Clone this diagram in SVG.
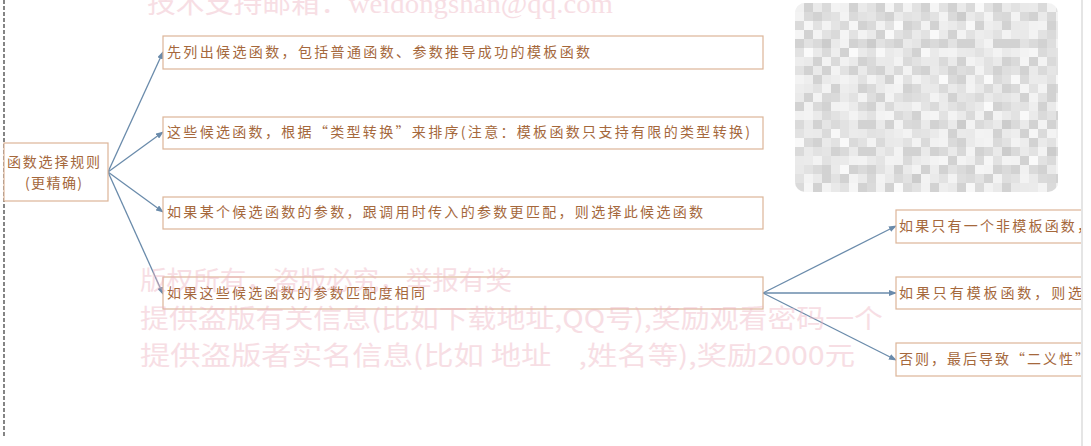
<svg xmlns="http://www.w3.org/2000/svg" width="1091" height="446" viewBox="0 0 1091 446">
<style>
.box{fill:#ffffff;stroke:#dcb598;stroke-width:1.2}
.t{font-family:"Noto Sans CJK SC","Noto Sans",sans-serif;font-size:14px;fill:#a5683c}
.wm{font-family:"Noto Sans CJK SC","Noto Sans",sans-serif;font-size:26px;fill:#eeb3c0;opacity:0.42}
.wmt{font-family:"Liberation Serif","Noto Sans CJK SC",serif;font-size:27px;fill:#eeb3c0;opacity:0.42}
.c{stroke:#6a8bab;stroke-width:1.3;fill:none}
.g0{fill:#d2d2d2}.g1{fill:#dadada}.g3{fill:#eaeaea}.g4{fill:#f3f3f3}
</style>
<defs>
<marker id="ah" markerUnits="userSpaceOnUse" markerWidth="8" markerHeight="6" refX="7" refY="3" orient="auto">
<path d="M0,0 L8,3 L0,6 z" fill="#6a8bab"/>
</marker>
<clipPath id="clipR"><rect x="0" y="0" width="1081" height="446"/></clipPath>
<pattern id="mA" width="72" height="63" patternUnits="userSpaceOnUse" x="795" y="3">
<rect width="72" height="63" fill="#e2e2e2"/>
<rect class="g0" x="9" y="0" width="9" height="9"/><rect class="g3" x="18" y="0" width="9" height="9"/><rect class="g1" x="27" y="0" width="9" height="9"/><rect class="g4" x="36" y="0" width="9" height="9"/><rect class="g0" x="54" y="0" width="9" height="9"/><rect class="g3" x="63" y="0" width="9" height="9"/>
<rect class="g4" x="0" y="9" width="9" height="9"/><rect class="g1" x="9" y="9" width="9" height="9"/><rect class="g0" x="18" y="9" width="9" height="9"/><rect class="g3" x="27" y="9" width="9" height="9"/><rect class="g4" x="45" y="9" width="9" height="9"/><rect class="g1" x="54" y="9" width="9" height="9"/>
<rect class="g1" x="0" y="18" width="9" height="9"/><rect class="g3" x="9" y="18" width="9" height="9"/><rect class="g4" x="27" y="18" width="9" height="9"/><rect class="g0" x="36" y="18" width="9" height="9"/><rect class="g1" x="45" y="18" width="9" height="9"/><rect class="g3" x="54" y="18" width="9" height="9"/><rect class="g0" x="63" y="18" width="9" height="9"/>
<rect class="g3" x="0" y="27" width="9" height="9"/><rect class="g0" x="9" y="27" width="9" height="9"/><rect class="g4" x="18" y="27" width="9" height="9"/><rect class="g1" x="36" y="27" width="9" height="9"/><rect class="g3" x="45" y="27" width="9" height="9"/><rect class="g4" x="63" y="27" width="9" height="9"/>
<rect class="g0" x="0" y="36" width="9" height="9"/><rect class="g1" x="18" y="36" width="9" height="9"/><rect class="g0" x="27" y="36" width="9" height="9"/><rect class="g3" x="36" y="36" width="9" height="9"/><rect class="g4" x="45" y="36" width="9" height="9"/><rect class="g0" x="54" y="36" width="9" height="9"/><rect class="g1" x="63" y="36" width="9" height="9"/>
<rect class="g4" x="9" y="45" width="9" height="9"/><rect class="g3" x="18" y="45" width="9" height="9"/><rect class="g1" x="27" y="45" width="9" height="9"/><rect class="g0" x="45" y="45" width="9" height="9"/><rect class="g4" x="54" y="45" width="9" height="9"/><rect class="g3" x="63" y="45" width="9" height="9"/>
<rect class="g1" x="0" y="54" width="9" height="9"/><rect class="g3" x="9" y="54" width="9" height="9"/><rect class="g0" x="18" y="54" width="9" height="9"/><rect class="g4" x="27" y="54" width="9" height="9"/><rect class="g1" x="36" y="54" width="9" height="9"/><rect class="g3" x="54" y="54" width="9" height="9"/><rect class="g0" x="63" y="54" width="9" height="9"/>
</pattern>
<pattern id="mB" width="45" height="27" patternUnits="userSpaceOnUse" x="795" y="3">
<rect x="0" y="0" width="9" height="9" fill="#ffffff" opacity="0.5"/><rect x="27" y="9" width="9" height="9" fill="#bdbdbd" opacity="0.25"/><rect x="9" y="18" width="9" height="9" fill="#ffffff" opacity="0.55"/><rect x="36" y="18" width="9" height="9" fill="#ffffff" opacity="0.4"/>
</pattern>
</defs>
<rect width="1091" height="446" fill="#ffffff"/>

<g id="mosaic">
<rect x="795" y="3" width="263" height="189" rx="10" fill="url(#mA)"/>
<rect x="795" y="3" width="263" height="189" rx="10" fill="url(#mB)"/>
</g>

<g id="frame">
<line x1="4" y1="0" x2="4" y2="437" stroke="#444" stroke-width="1.3" stroke-dasharray="4,2"/>
<line x1="1082" y1="0" x2="1082" y2="446" stroke="#dcdcdc" stroke-width="1.5"/>
</g>

<g id="connectors">
<line class="c" x1="108" y1="172" x2="163" y2="52" marker-end="url(#ah)"/>
<line class="c" x1="108" y1="172" x2="163" y2="132" marker-end="url(#ah)"/>
<line class="c" x1="108" y1="172" x2="163" y2="212" marker-end="url(#ah)"/>
<line class="c" x1="108" y1="172" x2="163" y2="294" marker-end="url(#ah)"/>
<line class="c" x1="763" y1="293" x2="896" y2="226" marker-end="url(#ah)"/>
<line class="c" x1="763" y1="293" x2="896" y2="293" marker-end="url(#ah)"/>
<line class="c" x1="763" y1="293" x2="896" y2="360" marker-end="url(#ah)"/>
</g>

<g id="root">
<rect class="box" x="4" y="143" width="104" height="58"/>
<text class="t" x="7" y="167" textLength="93" lengthAdjust="spacing">函数选择规则</text>
<text class="t" x="25" y="188" textLength="57" lengthAdjust="spacing">(更精确)</text>
</g>

<g id="n1">
<rect class="box" x="163" y="36" width="600" height="33"/>
<text class="t" x="167" y="57" textLength="423" lengthAdjust="spacing">先列出候选函数，包括普通函数、参数推导成功的模板函数</text>
</g>
<g id="n2">
<rect class="box" x="163" y="117" width="600" height="32"/>
<text class="t" x="167" y="137" textLength="583" lengthAdjust="spacing">这些候选函数，根据“类型转换”来排序(注意：模板函数只支持有限的类型转换)</text>
</g>
<g id="n3">
<rect class="box" x="163" y="197" width="600" height="32"/>
<text class="t" x="167" y="217" textLength="536" lengthAdjust="spacing">如果某个候选函数的参数，跟调用时传入的参数更匹配，则选择此候选函数</text>
</g>
<g id="n4">
<rect class="box" x="163" y="277" width="600" height="32"/>
<text class="t" x="167" y="298" textLength="258" lengthAdjust="spacing">如果这些候选函数的参数匹配度相同</text>
</g>

<g clip-path="url(#clipR)">
<g id="n5">
<rect class="box" x="896" y="210" width="200" height="33"/>
<text class="t" x="899" y="231" textLength="192" lengthAdjust="spacing">如果只有一个非模板函数，</text>
</g>
<g id="n6">
<rect class="box" x="896" y="277" width="200" height="32"/>
<text class="t" x="899" y="298" textLength="200" lengthAdjust="spacing">如果只有模板函数，则选择</text>
</g>
<g id="n7">
<rect class="box" x="896" y="343" width="200" height="33"/>
<text class="t" x="899" y="364" textLength="190" lengthAdjust="spacing">否则，最后导致“二义性”</text>
</g>
</g>

<g id="watermarks">
<text class="wmt" x="147" y="13" textLength="466" lengthAdjust="spacingAndGlyphs">技术支持邮箱：weidongshan@qq.com</text>
<text class="wm" x="140" y="290" textLength="372" lengthAdjust="spacingAndGlyphs">版权所有，盗版必究，举报有奖</text>
<text class="wm" x="140" y="328" textLength="743" lengthAdjust="spacingAndGlyphs">提供盗版有关信息(比如下载地址,QQ号),奖励观看密码一个</text>
<text class="wm" x="140" y="365" textLength="715" lengthAdjust="spacingAndGlyphs" xml:space="preserve">提供盗版者实名信息(比如 地址    ,姓名等),奖励2000元</text>
</g>
</svg>
